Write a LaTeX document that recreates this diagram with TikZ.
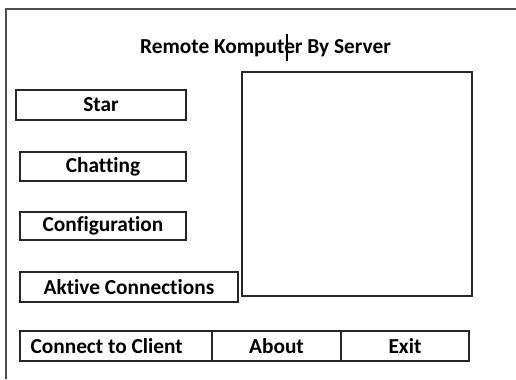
\documentclass[tikz,border=0pt]{standalone}
\usepackage{fontspec}
\setmainfont{Carlito}[Ligatures=NoCommon]
\begin{document}
\begin{tikzpicture}[x=0.75pt,y=-0.75pt,
  label/.style={font=\bfseries\fontsize{16}{18}\selectfont},
  btn/.style={label, draw=black!85, line width=1.1pt, inner sep=0pt},
  panel/.style={draw=black!85, line width=1.1pt, inner sep=0pt}]
\useasboundingbox (0,0) rectangle (516,379);
\fill[white] (0,0) rectangle (516,379);
% window frame (left and top edges)
\draw[black!70, line width=1.1pt] (6,379) -- (6,9) -- (516,9);
% title and text cursor
\node[label] (title) at (265.5,48) {Remote Komputer By Server};
\draw[black, line width=1.5pt] (287,34) -- (287,61);
% display area
\node[panel, minimum width=172.5pt, minimum height=168pt] (screen) at (357,184) {};
% menu buttons
\node[btn, minimum width=127.5pt, minimum height=22.5pt] (star) at (101,105) {Star};
\node[btn, minimum width=124.5pt, minimum height=21.75pt] (chat) at (103,166.5) {Chatting};
\node[btn, minimum width=124.5pt, minimum height=21pt] (config) at (103,226) {Configuration};
\node[btn, minimum width=163.5pt, minimum height=22.5pt] (active) at (129,287) {Aktive Connections};
% bottom button row
\node[btn, minimum width=144pt, minimum height=22.5pt] (connect) at (116,346) {Connect to Client\kern14pt\relax};
\node[btn, minimum width=96.75pt, minimum height=22.5pt] (about) at (276.5,346) {About};
\node[btn, minimum width=96pt, minimum height=22.5pt] (exit) at (405,346) {Exit};
\end{tikzpicture}
\end{document}
